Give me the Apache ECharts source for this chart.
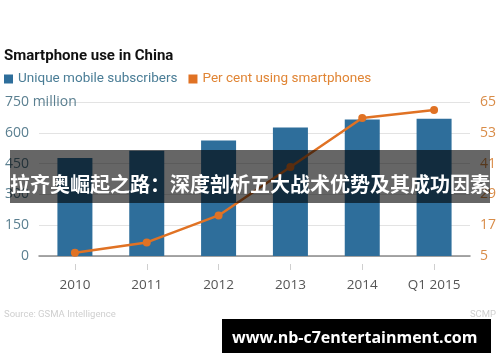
<!DOCTYPE html>
<html>
<head>
<meta charset="utf-8">
<script src="https://cdn.jsdelivr.net/npm/echarts@6/dist/echarts.min.js"></script>
<style>
html,body{margin:0;padding:0;background:#fff;}
#chart{width:500px;height:362px;}
</style>
</head>
<body>
<div id="chart"></div>
<script>
const categories = ['2010', '2011', '2012', '2013', '2014', 'Q1 2015'];
const subscribers = [477, 512, 563, 626, 665, 669];
const smartphonePct = [6.3, 10.3, 20.8, 39.7, 58.8, 61.9];
const leftTicks = [0, 150, 300, 450, 600, 750];
const rightTicks = [5, 17, 29, 41, 53, 65];
const seriesNames = ['Unique mobile subscribers', 'Per cent using smartphones'];
const titleText = 'Smartphone use in China';
const sourceText = 'Source: GSMA Intelligence';
const creditText = 'SCMP';
const bannerText = '拉齐奥崛起之路：深度剖析五大战术优势及其成功因素';
const watermarkText = 'www.nb-c7entertainment.com';

const FONT = 'Roboto';
const BAR = '#2e6e9b';
const ORANGE = '#e07224';

const chart = echarts.init(document.getElementById('chart'), null, {renderer: 'canvas'});
chart.setOption({
  animation: false,
  backgroundColor: '#fff',
  title: {
    text: titleText, left: 4, top: 49, padding: 0,
    textStyle: {fontFamily: FONT, fontWeight: 'bold', fontSize: 15, color: '#111'}
  },
  legend: {
    left: 4, top: 72, padding: 0, itemWidth: 9, itemHeight: 9, itemGap: 11, icon: 'rect',
    selectedMode: false,
    textStyle: {fontFamily: FONT, fontSize: 13.5},
    data: [
      {name: seriesNames[0], textStyle: {color: '#4a7d96'}},
      {name: seriesNames[1], textStyle: {color: '#e08535'}}
    ]
  },
  grid: {left: 39, right: 30, top: 102, bottom: 106},
  xAxis: [
    {
      type: 'category', data: categories, position: 'bottom',
      axisLine: {lineStyle: {color: '#8a8a8a', width: 1.5}},
      axisTick: {show: false}, axisLabel: {show: false}
    },
    {
      type: 'category', data: categories, position: 'bottom', offset: 8,
      axisLine: {show: false},
      axisTick: {show: true, alignWithLabel: true, length: 6, lineStyle: {color: '#cfcfcf'}},
      axisLabel: {margin: 14, fontFamily: 'Open Sans', fontSize: 13.5, color: '#555'}
    }
  ],
  yAxis: [
    {
      type: 'value', min: 0, max: 750, interval: 150,
      axisLine: {show: false}, axisTick: {show: false},
      splitLine: {lineStyle: {color: '#e3e3e3', width: 1}},
      axisLabel: {
        align: 'left', margin: 34, fontFamily: 'Open Sans', fontSize: 14, color: '#5a7f90',
        formatter: function (v) {
          if (v === leftTicks[leftTicks.length - 1]) return v + ' million';
          if (v < 10) return '{p|' + v + '}';
          return String(v);
        },
        rich: {p: {padding: [0, 0, 0, 16], fontFamily: 'Open Sans', fontSize: 14, color: '#5a7f90'}}
      }
    },
    {
      type: 'value', min: 5, max: 65, interval: 12, position: 'right',
      axisLine: {show: false}, axisTick: {show: false}, splitLine: {show: false},
      axisLabel: {align: 'left', margin: 10, fontFamily: 'Open Sans', fontSize: 14, color: '#d98c48'}
    }
  ],
  series: [
    {
      name: seriesNames[0], type: 'bar', xAxisIndex: 0, yAxisIndex: 0,
      data: subscribers, barWidth: 35, itemStyle: {color: BAR}
    },
    {
      name: seriesNames[1], type: 'line', xAxisIndex: 0, yAxisIndex: 1,
      data: smartphonePct, symbol: 'circle', symbolSize: 8,
      lineStyle: {color: ORANGE, width: 2.5}, itemStyle: {color: ORANGE}
    }
  ],
  graphic: [
    {type: 'text', left: 4, top: 310, style: {text: sourceText, fontFamily: FONT, fontSize: 9.5, fill: '#cfcfcf'}},
    {type: 'text', right: 4, top: 310, style: {text: creditText, fontFamily: FONT, fontSize: 9.5, fill: '#cfcfcf'}},
    {type: 'rect', z: 100, shape: {x: 10, y: 150, width: 480, height: 53}, style: {fill: 'rgba(0,0,0,0.6)'}},
    {type: 'text', z: 101, x: 250, y: 184, style: {text: bannerText, fontFamily: 'Noto Sans CJK SC', fontWeight: 'bold', fontSize: 20, fill: '#fff', textAlign: 'center', textVerticalAlign: 'middle'}},
    {type: 'rect', z: 100, shape: {x: 222, y: 319, width: 269, height: 34}, style: {fill: '#000'}},
    {type: 'text', z: 101, x: 232, y: 338, style: {text: watermarkText, fontFamily: 'Open Sans', fontWeight: 'bold', fontSize: 16, fill: '#fff', textAlign: 'left', textVerticalAlign: 'middle'}}
  ]
});
</script>
</body>
</html>
